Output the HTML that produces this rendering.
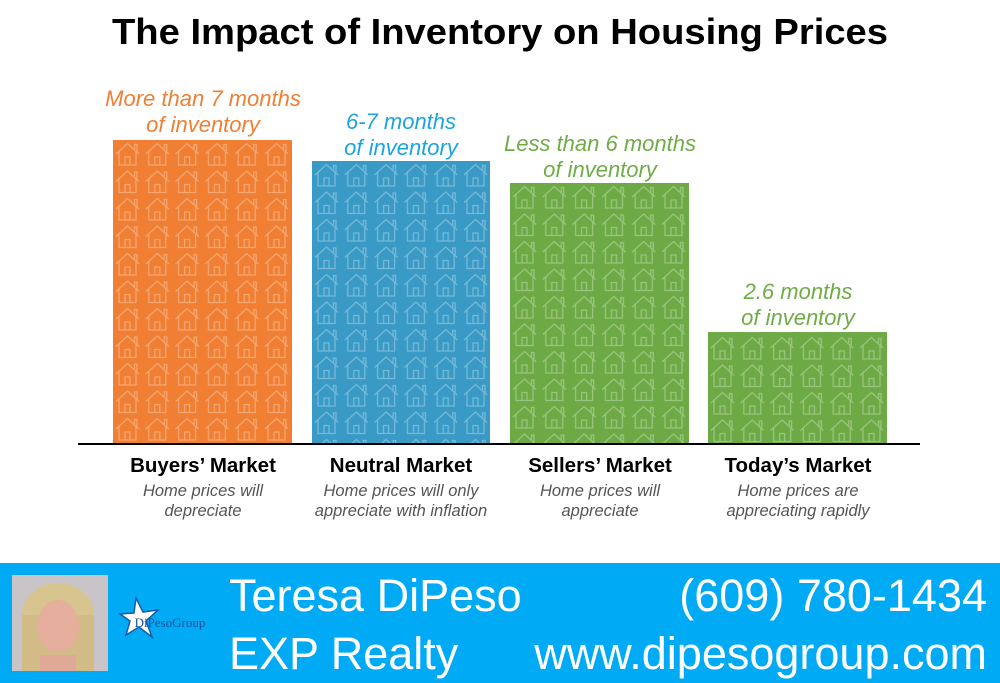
<!DOCTYPE html>
<html><head><meta charset="utf-8"><style>
html,body{margin:0;padding:0;background:#fff;}
svg{display:block;font-family:"Liberation Sans",Arial,sans-serif;}
</style></head><body>
<svg width="1000" height="683" viewBox="0 0 1000 683" xmlns="http://www.w3.org/2000/svg">
<defs>
<symbol id="h" viewBox="0 0 30 27.5">
<g fill="none" stroke="#fff" stroke-opacity="0.3" stroke-width="1.3">
<path d="M1 13 L12.5 2.5 L24 13 M19.5 8 V3.5 H22 V10.5 M4 10.5 V24 H21 V10.5 M10 24 V16 H15 V24"/>
</g>
</symbol>
<pattern id="po" x="115" y="141" width="29.8" height="27.5" patternUnits="userSpaceOnUse"><use href="#h" width="30" height="27.5"/></pattern>
<pattern id="pb" x="314" y="162" width="29.8" height="27.5" patternUnits="userSpaceOnUse"><use href="#h" width="30" height="27.5"/></pattern>
<pattern id="pg" x="512" y="184" width="29.8" height="27.5" patternUnits="userSpaceOnUse"><use href="#h" width="30" height="27.5"/></pattern>
<pattern id="pt" x="710" y="335" width="29.8" height="27.5" patternUnits="userSpaceOnUse"><use href="#h" width="30" height="27.5"/></pattern>
</defs>
<text x="500" y="44" text-anchor="middle" font-weight="bold" font-size="36" textLength="776" lengthAdjust="spacingAndGlyphs" fill="#000">The Impact of Inventory on Housing Prices</text>

<rect x="113" y="140" width="179" height="304" fill="#F07F33"/><rect x="113" y="140" width="179" height="304" fill="url(#po)"/>
<rect x="312" y="161" width="178" height="283" fill="#3A9AC6"/><rect x="312" y="161" width="178" height="283" fill="url(#pb)"/>
<rect x="510" y="183" width="179" height="261" fill="#6DAA45"/><rect x="510" y="183" width="179" height="261" fill="url(#pg)"/>
<rect x="708" y="332" width="179" height="112" fill="#6DAA45"/><rect x="708" y="332" width="179" height="112" fill="url(#pt)"/>
<rect x="78" y="443" width="842" height="2" fill="#000"/>

<g font-style="italic" font-size="22" text-anchor="middle">
<text x="203" y="106" fill="#F07F33">More than 7 months</text>
<text x="203" y="132" fill="#F07F33">of inventory</text>
<text x="401" y="129" fill="#1AA5DF">6-7 months</text>
<text x="401" y="155" fill="#1AA5DF">of inventory</text>
<text x="600" y="151" fill="#6FAC46">Less than 6 months</text>
<text x="600" y="177" fill="#6FAC46">of inventory</text>
<text x="798" y="299" fill="#6FAC46">2.6 months</text>
<text x="798" y="325" fill="#6FAC46">of inventory</text>
</g>

<g font-weight="bold" font-size="20.5" text-anchor="middle" fill="#000">
<text x="203" y="472">Buyers’ Market</text>
<text x="401" y="472">Neutral Market</text>
<text x="600" y="472">Sellers’ Market</text>
<text x="798" y="472">Today’s Market</text>
</g>
<g font-style="italic" font-size="16.5" text-anchor="middle" fill="#555">
<text x="203" y="496">Home prices will</text>
<text x="203" y="516">depreciate</text>
<text x="401" y="496">Home prices will only</text>
<text x="401" y="516">appreciate with inflation</text>
<text x="600" y="496">Home prices will</text>
<text x="600" y="516">appreciate</text>
<text x="798" y="496">Home prices are</text>
<text x="798" y="516">appreciating rapidly</text>
</g>

<rect x="0" y="563" width="1000" height="120" fill="#00AAF5"/>
<rect x="12" y="575" width="96" height="96" fill="#C9C4C8"/>
<ellipse cx="58" cy="615" rx="36" ry="32" fill="#D8C48E"/>
<rect x="22" y="615" width="72" height="56" fill="#D2BB86"/>
<ellipse cx="58" cy="626" rx="21" ry="26" fill="#E6AE9C"/>
<rect x="40" y="655" width="36" height="16" fill="#E0A896"/>
<polygon points="136,598 143,612 158,610 146,621 152,637 139,627 126,635 130,621 120,614 134,613" fill="#fff" stroke="#1A5AA8" stroke-width="1.5"/>
<text x="170" y="627" text-anchor="middle" font-family="Liberation Serif,serif" font-size="13" fill="#1A4F9A">DiPesoGroup</text>
<g font-size="45" fill="#fff">
<text x="229" y="611">Teresa DiPeso</text>
<text x="229" y="669">EXP Realty</text>
<text x="987" y="611" text-anchor="end">(609) 780-1434</text>
<text x="987" y="669" text-anchor="end">www.dipesogroup.com</text>
</g>
</svg>
</body></html>
